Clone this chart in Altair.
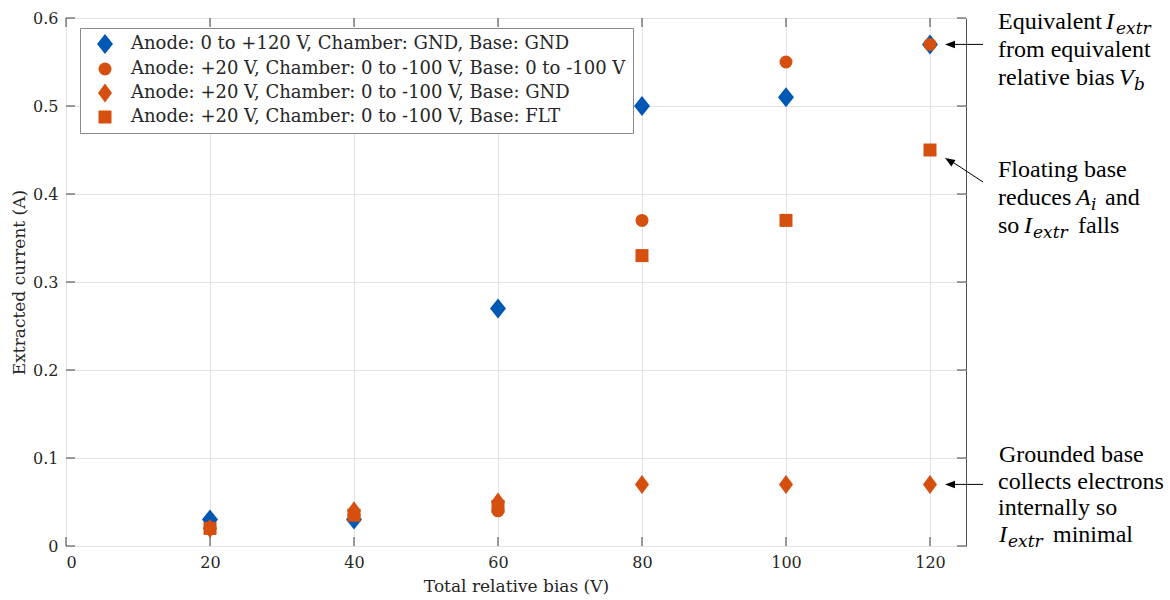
import altair as alt
import pandas as pd

# ---- data ----
bias = [20, 40, 60, 80, 100, 120]
series_labels = [
    "Anode: 0 to +120 V, Chamber: GND, Base: GND",
    "Anode: +20 V, Chamber: 0 to -100 V, Base: 0 to -100 V",
    "Anode: +20 V, Chamber: 0 to -100 V, Base: GND",
    "Anode: +20 V, Chamber: 0 to -100 V, Base: FLT",
]
anode_sweep = [0.03, 0.03, 0.27, 0.50, 0.51, 0.57]
base_sweep = [0.02, 0.035, 0.04, 0.37, 0.55, 0.57]
base_gnd = [0.02, 0.04, 0.05, 0.07, 0.07, 0.07]
base_flt = [0.02, 0.035, 0.045, 0.33, 0.37, 0.45]
series_values = [anode_sweep, base_sweep, base_gnd, base_flt]

x_ticks = [0, 20, 40, 60, 80, 100, 120]
y_ticks = [0, 0.1, 0.2, 0.3, 0.4, 0.5, 0.6]

BLUE = "#0058B5"
ORANGE = "#D5500F"
colors = [BLUE, ORANGE, ORANGE, ORANGE]
shapes = [
    "M0,-1.54L1.23,0L0,1.54L-1.23,0Z",
    "circle",
    "M0,-1.46L1.08,0L0,1.46L-1.08,0Z",
    "square",
]

rows = []
for lab, vals in zip(series_labels, series_values):
    for b, v in zip(bias, vals):
        rows.append({"bias": b, "current": v, "series": lab})
df = pd.DataFrame(rows)

W, H = 900, 528
OX, OY = 66, 18
SERIF = "DejaVu Serif"
ANN = "Liberation Serif"
TXT = "#262626"

xs = alt.Scale(domain=[0, 125], nice=False, zero=False)
ys = alt.Scale(domain=[0, 0.6], nice=False, zero=False)

xaxis = alt.Axis(
    values=x_ticks, title="Total relative bias (V)", grid=True, gridColor="#e3e3e3",
    domain=False, ticks=False, labelFont=SERIF, labelFontSize=16, labelColor=TXT,
    labelPadding=8, titleFont=SERIF, titleFontSize=17, titleFontWeight="normal",
    titleColor=TXT, titlePadding=8, labelExpr="datum.value == 0 ? '0' : datum.label")
yaxis = alt.Axis(
    values=y_ticks, title="Extracted current (A)", grid=True, gridColor="#e3e3e3",
    domain=False, ticks=False, labelFont=SERIF, labelFontSize=16, labelColor=TXT,
    labelPadding=8, titleFont=SERIF, titleFontSize=17, titleFontWeight="normal",
    titleColor=TXT, titlePadding=4, format=".1f",
    labelExpr="datum.value == 0 ? '0' : datum.label")

X = alt.X("bias:Q", scale=xs, axis=xaxis)
Y = alt.Y("current:Q", scale=ys, axis=yaxis)

leg = alt.Legend(
    orient="none", legendX=14, legendY=10, title=None,
    labelFont=SERIF, labelFontSize=18, labelColor=TXT, labelLimit=1000,
    strokeColor="#8a8a8a", fillColor="white", padding=7,
    symbolSize=169, symbolStrokeWidth=0, rowPadding=5, labelOffset=17,
    symbolOffset=9,
)

points = alt.Chart(df).mark_point(filled=True, opacity=1, strokeWidth=0, size=169).encode(
    x=X, y=Y,
    color=alt.Color("series:N", scale=alt.Scale(domain=series_labels, range=colors), legend=leg),
    shape=alt.Shape("series:N", scale=alt.Scale(domain=series_labels, range=shapes), legend=leg),
)

# inward tick marks on all four sides
ydf = pd.DataFrame({"current": y_ticks})
xdf = pd.DataFrame({"bias": x_ticks})
tick_style = dict(color="#404040", strokeWidth=1)
yt_left = alt.Chart(ydf).mark_rule(**tick_style).encode(y=Y, x=alt.value(0), x2=alt.value(9))
yt_right = alt.Chart(ydf).mark_rule(**tick_style).encode(y=Y, x=alt.value(W - 9), x2=alt.value(W))
xt_bottom = alt.Chart(xdf).mark_rule(**tick_style).encode(x=X, y=alt.value(H), y2=alt.value(H - 9))
xt_top = alt.Chart(xdf).mark_rule(**tick_style).encode(x=X, y=alt.value(0), y2=alt.value(9))

# annotation arrows (pointing at data values)
arrow_df = pd.DataFrame({"current": [0.57, 0.07]})
arrow_lines = alt.Chart(arrow_df).mark_rule(color="black", strokeWidth=1).encode(
    y=Y, x=alt.value(881), x2=alt.value(917))
arrow_heads = alt.Chart(arrow_df).mark_point(
    shape="M0,0L-2,-0.75L-2,0.75Z", filled=True, color="black", opacity=1,
    strokeWidth=0, size=100, angle=180).encode(y=Y, x=alt.value(879))
one = pd.DataFrame({"a": [0]})
diag_line = alt.Chart(one).mark_rule(color="black", strokeWidth=1).encode(
    x=alt.value(917), x2=alt.value(882), y=alt.value(164), y2=alt.value(141))
diag_head = alt.Chart(one).mark_point(
    shape="M0,0L-2,-0.75L-2,0.75Z", filled=True, color="black", opacity=1,
    strokeWidth=0, size=100, angle=212).encode(x=alt.value(879), y=alt.value(140))

# annotation text: (text, x_abs, baseline_abs, style)
ann = [
    ("Equivalent", 998, 29, "n"), ("I", 1106, 29, "i"), ("extr", 1116, 34, "s"),
    ("from equivalent", 998, 57, "n"),
    ("relative bias", 998, 85, "n"), ("V", 1119, 85, "i"), ("b", 1134, 90, "s"),
    ("Floating base", 998, 177, "n"),
    ("reduces", 998, 205, "n"), ("A", 1076, 205, "i"), ("i", 1091, 210, "s"), ("and", 1105, 205, "n"),
    ("so", 998, 233, "n"), ("I", 1024, 233, "i"), ("extr", 1033, 238, "s"), ("falls", 1078, 233, "n"),
    ("Grounded base", 999, 462, "n"),
    ("collects electrons", 998, 489, "n"),
    ("internally so", 998, 515, "n"),
    ("I", 999, 542, "i"), ("extr", 1008, 547, "s"), ("minimal", 1053, 542, "n"),
]

ann_layers = []
for text, xa, ya, style in ann:
    if style == "n":
        kw = dict(font=ANN, fontSize=24, fontStyle="normal")
    elif style == "i":
        kw = dict(font=ANN, fontSize=24, fontStyle="italic")
    else:
        kw = dict(font="DejaVu Serif", fontSize=17, fontStyle="italic")
    ann_layers.append(
        alt.Chart(one).mark_text(align="left", baseline="alphabetic", color="black",
                                 text=text, **kw)
        .encode(x=alt.value(xa - OX), y=alt.value(ya - OY))
    )

chart = alt.layer(
    points, yt_left, yt_right, xt_bottom, xt_top,
    arrow_lines, arrow_heads, diag_line, diag_head, *ann_layers,
).properties(
    width=W, height=H,
    padding={"left": OX, "top": OY, "right": 1170 - OX - W, "bottom": 600 - OY - H},
    autosize="none", background="white",
).configure_view(stroke="#505050", strokeWidth=1)

chart.save("out.html", embed_options={"renderer": "svg", "actions": False})
